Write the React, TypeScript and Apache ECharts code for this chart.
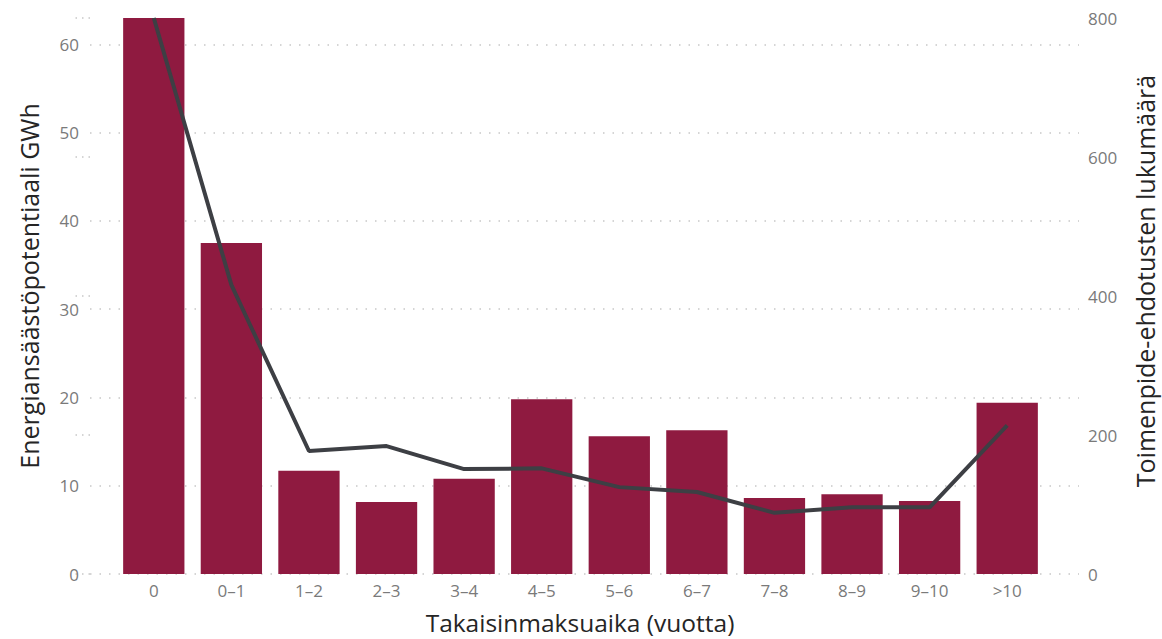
import React, { useEffect, useRef } from "react";
import * as echarts from "echarts";

const categories = ["0", "0–1", "1–2", "2–3", "3–4", "4–5", "5–6", "6–7", "7–8", "8–9", "9–10", ">10"];
const energyGWh = [63, 37.5, 11.7, 8.15, 10.8, 19.8, 15.6, 16.3, 8.6, 9.05, 8.27, 19.4];
const proposalCount = [800, 416, 177, 184, 151, 152, 125, 118, 88, 96, 96, 214];
const leftTicksMax = 60;
const leftMax = 63;
const rightMax = 800;
const xTitle = "Takaisinmaksuaika (vuotta)";
const leftTitle = "Energiansäästöpotentiaali GWh";
const rightTitle = "Toimenpide-ehdotusten lukumäärä";

const titleFont = "'Open Sans', 'Noto Sans', sans-serif";
const numFont = "'Open Sans', Lato, sans-serif";
const gridColor = "#c8c8c8";

export default function App() {
  const ref = useRef<HTMLDivElement>(null);
  useEffect(() => {
    if (!ref.current) return;
    const chart = echarts.init(ref.current, null, { renderer: "svg" });
    const zeroY = 574;
    const topY = 18;
    const pxPerUnit = (zeroY - topY) / leftMax;
    const labelGridTop = zeroY - leftTicksMax * pxPerUnit;
    const titleStyle = (text: string, size: number) => ({
      text,
      fill: "#252525",
      fontSize: size,
      fontFamily: titleFont,
      align: "center",
      verticalAlign: "middle",
    });
    chart.setOption({
      animation: false,
      backgroundColor: "#ffffff",
      graphic: [
        { type: "text", x: 580, y: 622, style: titleStyle(xTitle, 24.5) },
        { type: "text", x: 29, y: 286, rotation: Math.PI / 2, style: titleStyle(leftTitle, 25) },
        { type: "text", x: 1145, y: 281, rotation: Math.PI / 2, style: titleStyle(rightTitle, 25) },
      ],
      grid: [
        { left: 90, right: 83, top: labelGridTop, bottom: 639 - zeroY, outerBoundsMode: "none", containLabel: false },
        { left: 115, right: 116, top: topY, bottom: 639 - zeroY, outerBoundsMode: "none", containLabel: false },
        { left: 90, right: 83, top: topY, bottom: 639 - zeroY, outerBoundsMode: "none", containLabel: false },
      ],
      xAxis: [
        { type: "value", gridIndex: 0, show: false },
        {
          type: "category",
          gridIndex: 1,
          data: categories,
          axisLine: { show: false },
          axisTick: { show: false },
          axisLabel: { color: "#7a7a7a", fontSize: 17, fontFamily: numFont, margin: 8 },
        },
        { type: "value", gridIndex: 2, show: false },
      ],
      yAxis: [
        {
          type: "value",
          gridIndex: 0,
          min: 0,
          max: leftTicksMax,
          interval: 10,
          axisLine: { show: false },
          axisTick: { show: false },
          axisLabel: { color: "#7a7a7a", fontSize: 17, fontFamily: numFont, margin: 11 },
          splitLine: { show: true, lineStyle: { color: gridColor, width: 1.5, type: [1.5, 8] } },
        },
        { type: "value", gridIndex: 1, min: 0, max: leftMax, show: false },
        { type: "value", gridIndex: 1, min: 0, max: rightMax, show: false },
        {
          type: "value",
          gridIndex: 2,
          position: "right",
          min: 0,
          max: rightMax,
          interval: 200,
          axisLine: { show: false },
          axisTick: { show: true, inside: true, length: 15, lineStyle: { color: gridColor, width: 1.5, type: [1.5, 5] } },
          axisLabel: { color: "#7a7a7a", fontSize: 17, fontFamily: numFont, margin: 9 },
          splitLine: { show: false },
        },
      ],
      series: [
        {
          type: "bar",
          xAxisIndex: 1,
          yAxisIndex: 1,
          data: energyGWh,
          barCategoryGap: "21%",
          itemStyle: { color: "#8f1a40" },
          silent: true,
        },
        {
          type: "line",
          xAxisIndex: 1,
          yAxisIndex: 2,
          data: proposalCount,
          showSymbol: false,
          symbol: "none",
          lineStyle: { color: "#3d3f44", width: 4 },
          silent: true,
        },
      ],
    });
    return () => chart.dispose();
  }, []);
  return <div ref={ref} style={{ position: "absolute", left: 0, top: 0, width: 1162, height: 639 }} />;
}
